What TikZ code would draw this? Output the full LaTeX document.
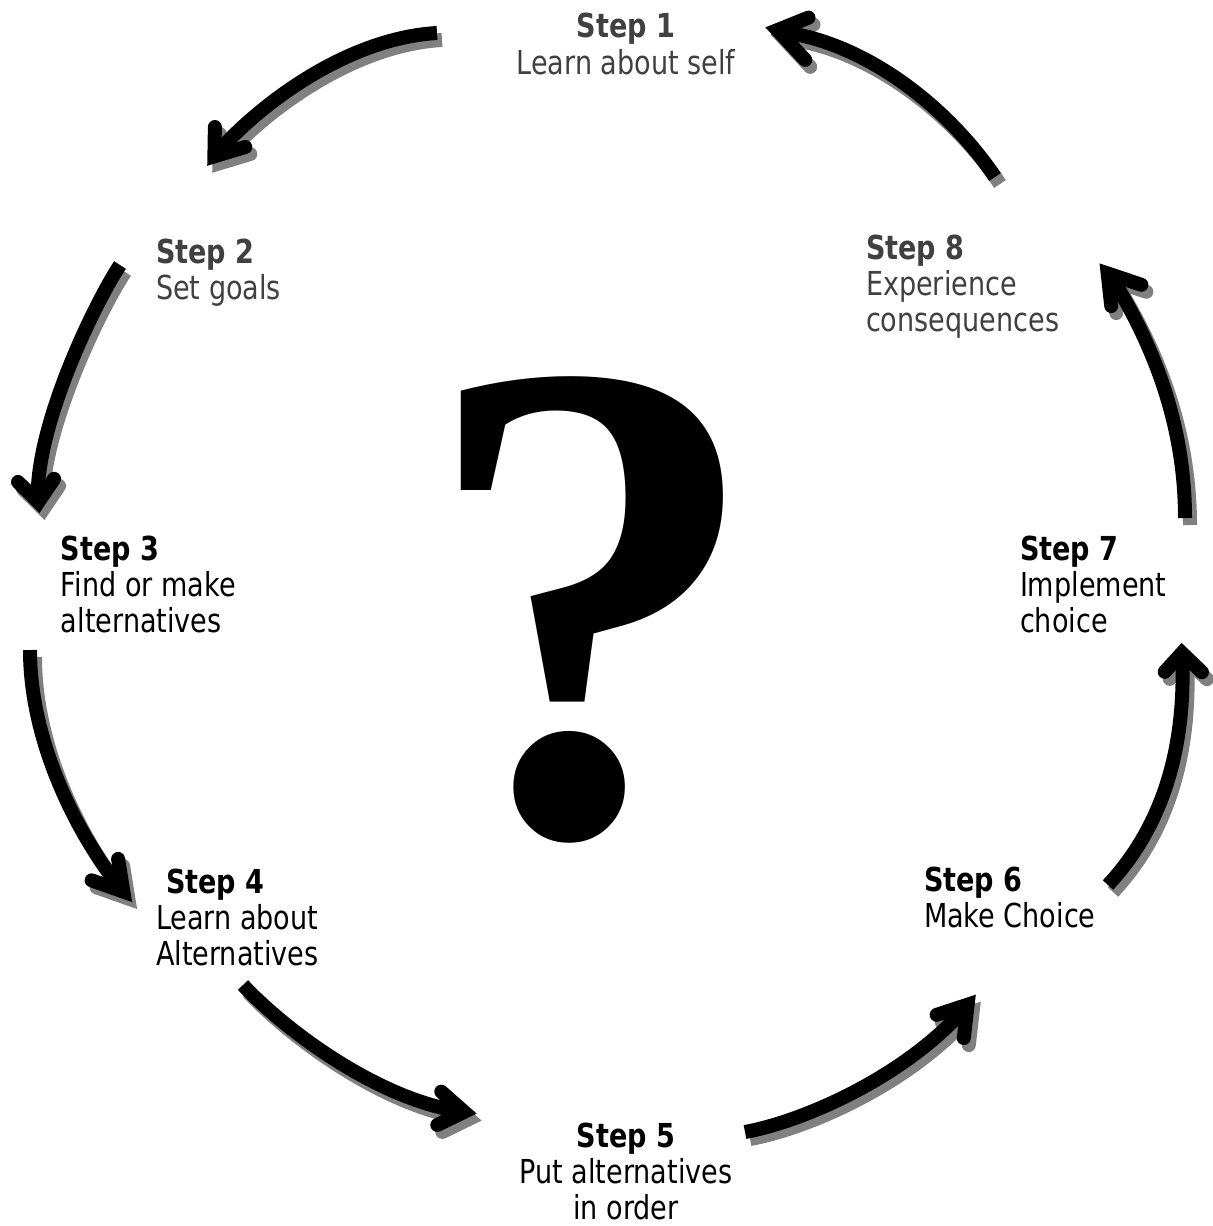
\documentclass[tikz,border=0pt]{standalone}
\usepackage{fontspec}
\setmainfont{DejaVu Sans}[FakeStretch=0.82]
\newfontfamily\qmfont{Liberation Serif}
\usetikzlibrary{calc}
\definecolor{labelgray}{HTML}{404040}
\definecolor{shadowgray}{HTML}{808080}
\tikzset{
  shaftline/.style={line width=7pt, line cap=butt},
  headline/.style={line width=7pt, line cap=round, line join=miter, miter limit=10},
  lab/.style={inner sep=0pt, outer sep=0pt, font=\fontsize{16.5}{18}\selectfont},
  grlab/.style={lab, text=labelgray},
  qmark/.style={inner sep=0pt, outer sep=0pt, anchor=base, font=\qmfont\bfseries\fontsize{345}{345}\selectfont}
}
% #1 tail, #2 #3 controls, #4 visible tip, #5 #6 visible arm ends
\newcommand\cycarrow[6]{%
  \coordinate (armmid) at ($(#5)!0.5!(#6)$);
  \coordinate (vx) at ($(#4)!7.5pt!(armmid)$);
  \coordinate (ae) at ($(#5)!3.5pt!(vx)$);
  \coordinate (be) at ($(#6)!3.5pt!(vx)$);
  \coordinate (se) at ($(vx)!0.25!(armmid)$);
  \begin{scope}[transform canvas={shift={(2.5pt,-3.5pt)}}]
    \draw[shaftline, shadowgray] (#1) .. controls (#2) and (#3) .. (se);
    \draw[headline, shadowgray] (ae) -- (vx) -- (be);
  \end{scope}
  \draw[shaftline] (#1) .. controls (#2) and (#3) .. (se);
  \draw[headline] (ae) -- (vx) -- (be);
}
\begin{document}
\begin{tikzpicture}[x=0.5pt,y=-0.5pt]
\useasboundingbox (0,0) rectangle (1212,1226);

% labels (anchor = baseline of the last line)
\node[grlab, align=center, anchor=base] (s1) at (626,74) {\textbf{Step 1}\\Learn about self};
\node[grlab, align=left, anchor=base west] (s2) at (156,299) {\textbf{Step 2}\\Set goals};
\node[lab, align=left, anchor=base west] (s3) at (61,632) {\textbf{Step 3}\\Find or make\\alternatives};
\node[lab, align=left, anchor=base west] (s4) at (156,965) {\hspace*{5pt}\textbf{Step 4}\\Learn about\\Alternatives};
\node[lab, align=center, anchor=base] (s5) at (626,1219) {\textbf{Step 5}\\Put alternatives\\in order};
\node[lab, align=left, anchor=base west] (s6) at (924,927) {\textbf{Step 6}\\Make Choice};
\node[lab, align=left, anchor=base west] (s7) at (1020,632) {\textbf{Step 7}\\Implement\\choice};
\node[grlab, align=left, anchor=base west] (s8) at (866,331) {\textbf{Step 8}\\Experience\\consequences};

% question mark
\node[qmark] (q) at (592,833) {?};

% arrow coordinates
\coordinate (t1) at (437,33);   \coordinate (p1) at (350,38);   \coordinate (q1) at (265,100);
\coordinate (h1) at (205,168);  \coordinate (a1) at (215,120);  \coordinate (b1) at (252,145);

\coordinate (t2) at (120,265);  \coordinate (p2) at (95,303);   \coordinate (q2) at (38,420);
\coordinate (h2) at (40,517);   \coordinate (a2) at (13,477);   \coordinate (b2) at (58,473);

\coordinate (t3) at (30,650);   \coordinate (p3) at (30,740);   \coordinate (q3) at (75,830);
\coordinate (h3) at (133,903);  \coordinate (a3) at (117,852);  \coordinate (b3) at (85,878);

\coordinate (t4) at (243,985);  \coordinate (p4) at (285,1030); \coordinate (q4) at (375,1097);
\coordinate (h4) at (479,1114); \coordinate (a4) at (436,1087); \coordinate (b4) at (431,1128);

\coordinate (t5) at (745,1132); \coordinate (p5) at (800,1122); \coordinate (q5) at (900,1080);
\coordinate (h5) at (977,993);  \coordinate (a5) at (930,1017); \coordinate (b5) at (963,1045);

\coordinate (t6) at (1108,885); \coordinate (p6) at (1150,840); \coordinate (q6) at (1186,770);
\coordinate (h6) at (1181,638); \coordinate (a6) at (1160,677); \coordinate (b6) at (1207,677);

\coordinate (t7) at (1185,518); \coordinate (p7) at (1185,420); \coordinate (q7) at (1150,340);
\coordinate (h7) at (1098,262); \coordinate (a7) at (1112,313); \coordinate (b7) at (1148,287);

\coordinate (t8) at (995,177);  \coordinate (p8) at (950,110);  \coordinate (q8) at (870,45);
\coordinate (h8) at (763,26);   \coordinate (a8) at (815,15);   \coordinate (b8) at (810,65);

\cycarrow{t1}{p1}{q1}{h1}{a1}{b1}
\cycarrow{t2}{p2}{q2}{h2}{a2}{b2}
\cycarrow{t3}{p3}{q3}{h3}{a3}{b3}
\cycarrow{t4}{p4}{q4}{h4}{a4}{b4}
\cycarrow{t5}{p5}{q5}{h5}{a5}{b5}
\cycarrow{t6}{p6}{q6}{h6}{a6}{b6}
\cycarrow{t7}{p7}{q7}{h7}{a7}{b7}
\cycarrow{t8}{p8}{q8}{h8}{a8}{b8}
\end{tikzpicture}
\end{document}
